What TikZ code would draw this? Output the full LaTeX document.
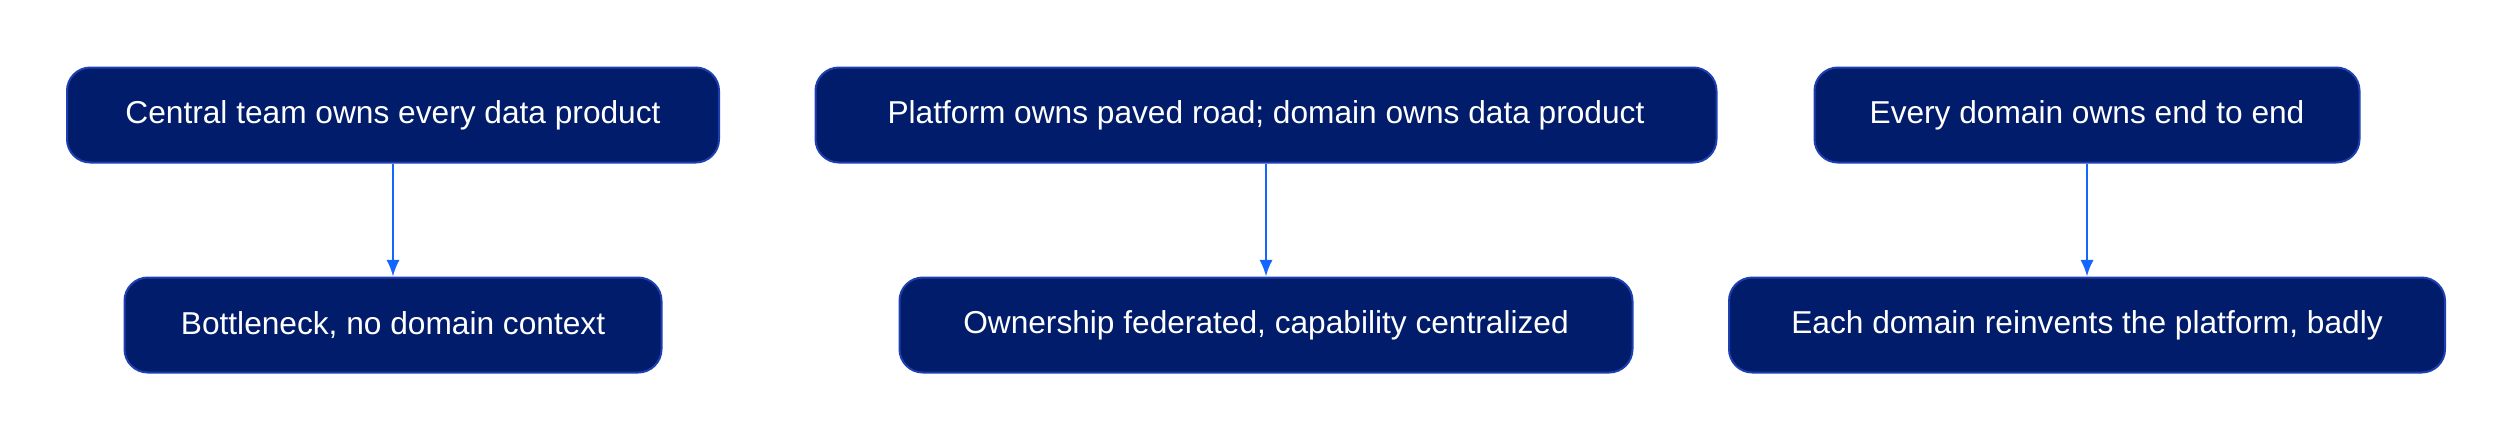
\documentclass[tikz,border=0pt]{standalone}
\usepackage{fontspec}
\setmainfont{Liberation Sans}
\usetikzlibrary{arrows.meta}
\definecolor{boxfill}{HTML}{001C6B}
\definecolor{boxline}{HTML}{1E3FB0}
\definecolor{arrowc}{HTML}{1565FF}
\begin{document}
\begin{tikzpicture}[x=0.3pt,y=-0.3pt,
  box/.style={draw=boxline,line width=0.6pt,fill=boxfill,rounded corners=7pt,text=white,font=\fontsize{9.5}{11}\selectfont,minimum height=28.5pt,inner sep=0pt,anchor=center},
  arr/.style={draw=arrowc,line width=0.7pt,-{Latex[length=5pt,width=4pt]}}]
\useasboundingbox (0,0) rectangle (2512,441);
\node[box,minimum width=195.6pt] (a) at (393,115) {Central team owns every data product};
\node[box,minimum width=161.1pt] (b) at (393,325) {Bottleneck, no domain context};
\node[box,minimum width=270.3pt] (c) at (1266,115) {Platform owns paved road; domain owns data product};
\node[box,minimum width=219.9pt] (d) at (1266,325) {Ownership federated, capability centralized};
\node[box,minimum width=163.5pt] (e) at (2087,115) {Every domain owns end to end};
\node[box,minimum width=214.8pt] (f) at (2087,325) {Each domain reinvents the platform, badly};
\draw[arr] (a) -- (b);
\draw[arr] (c) -- (d);
\draw[arr] (e) -- (f);
\end{tikzpicture}
\end{document}
